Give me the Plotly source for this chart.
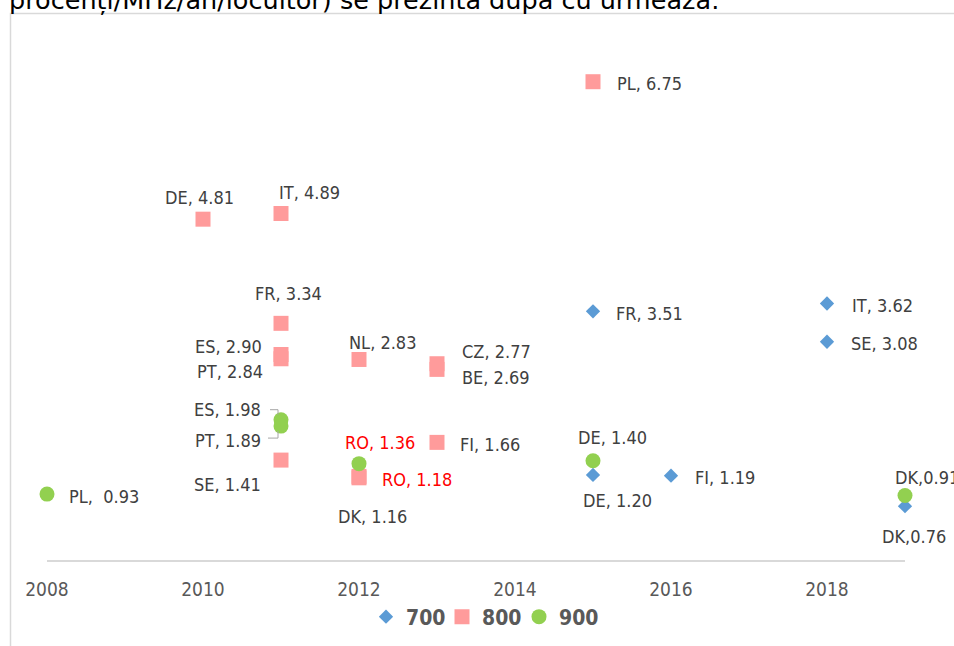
import plotly.graph_objects as go

# ---------------- data ----------------
series_names = ["700", "800", "900"]

countries_700 = ["FR", "IT", "SE", "DE", "FI", "DK"]
years_700 = [2015, 2018, 2018, 2015, 2016, 2019]
values_700 = [3.51, 3.62, 3.08, 1.20, 1.19, 0.76]
seps_700 = [", ", ", ", ", ", ", ", ", ", ","]

countries_800 = ["PL", "DE", "IT", "FR", "ES", "PT", "NL", "CZ", "BE", "FI", "SE", "RO", "DK"]
years_800 = [2015, 2010, 2011, 2011, 2011, 2011, 2012, 2013, 2013, 2013, 2011, 2012, 2012]
values_800 = [6.75, 4.81, 4.89, 3.34, 2.90, 2.84, 2.83, 2.77, 2.69, 1.66, 1.41, 1.18, 1.16]
seps_800 = [", "] * 13

countries_900 = ["PL", "ES", "PT", "RO", "DE", "DK"]
years_900 = [2008, 2011, 2011, 2012, 2015, 2019]
values_900 = [0.93, 1.98, 1.89, 1.36, 1.40, 0.91]
seps_900 = [",  ", ", ", ", ", ", ", ", ", ","]

x_tick_values = [2008, 2010, 2012, 2014, 2016, 2018]
x_tick_labels = ["2008", "2010", "2012", "2014", "2016", "2018"]

header_text = "procenți/MHz/an/locuitor) se prezintă după cu urmează:"

# ---------------- styles ----------------
COL_700 = "#5B9BD5"
COL_800 = "#FF9B9B"
COL_900 = "#92D050"
LABEL_COL = "#404040"
HIGHLIGHT = "#FF0000"
LABEL_FONT = "DejaVu Sans Condensed"

# label placement (anchor, xshift px, yshift px)
place_700 = [("left", 21, -2), ("left", 23, -2), ("left", 22, -2),
             ("center", 24, -26), ("left", 22, -2), ("center", 9, -30)]
place_800 = [("left", 22, -2), ("center", -4, 22), ("center", 28, 21),
             ("center", 7, 30), ("right", -17, 8), ("right", -16, -13),
             ("center", 23, 17), ("left", 23, 12), ("left", 23, -8),
             ("left", 21, -2), ("right", -18, -24), ("left", 21, -3),
             ("center", 13, -39)]
place_900 = [("left", 20, -2), ("right", -18, 10), ("right", -18, -14),
             ("center", 21, 21), ("center", 19, 23), ("left", -12, 18)]

# legend entry positions (left edge px of each separate legend box)
legend_left_px = [366, 442, 519]

# ---------------- figure ----------------
W, H = 954, 646
ML, MR, MT, MB = 47, 49, 64, 86
PW, PH = W - ML - MR, H - MT - MB


def px_to_paper_x(px):
    return (px - ML) / PW


def px_to_paper_y(py):
    return (H - MB - py) / PH


fig = go.Figure()

series = [
    (series_names[0], countries_700, years_700, values_700, seps_700, place_700,
     dict(symbol="diamond", size=11, color=COL_700)),
    (series_names[1], countries_800, years_800, values_800, seps_800, place_800,
     dict(symbol="square", size=15, color=COL_800)),
    (series_names[2], countries_900, years_900, values_900, seps_900, place_900,
     dict(symbol="circle", size=15, color=COL_900)),
]

legend_ids = ["legend", "legend2", "legend3"]

annotations = []
for i, (name, ctry, yrs, vals, seps, place, mk) in enumerate(series):
    fig.add_trace(go.Scatter(
        x=yrs, y=vals, mode="markers", name=name, legend=legend_ids[i],
        marker=dict(symbol=mk["symbol"], size=mk["size"], color=mk["color"],
                    line=dict(width=0)),
        cliponaxis=False, hoverinfo="skip",
    ))
    for c, x, v, s, (anc, dx, dy) in zip(ctry, yrs, vals, seps, place):
        annotations.append(dict(
            x=x, y=v, xref="x", yref="y", text=f"{c}{s}{v:.2f}",
            showarrow=False, xanchor=anc, yanchor="middle",
            xshift=dx, yshift=dy,
            font=dict(family=LABEL_FONT, size=18,
                      color=HIGHLIGHT if c == "RO" else LABEL_COL),
        ))

# header text (partially cut at the top)
annotations.append(dict(
    x=px_to_paper_x(722), y=px_to_paper_y(0), xref="paper", yref="paper",
    text=header_text, showarrow=False, xanchor="right", yanchor="middle",
    font=dict(family="DejaVu Sans", size=25.5, color="#000000"),
))

shapes = [
    # chart frame
    dict(type="rect", xref="paper", yref="paper",
         x0=px_to_paper_x(10.5), x1=px_to_paper_x(1000),
         y0=px_to_paper_y(700), y1=px_to_paper_y(13.5),
         line=dict(color="#D9D9D9", width=1.5), fillcolor="rgba(0,0,0,0)",
         layer="below"),
]
# leader lines for ES / PT (900) labels
for c, x, v in zip(countries_900, years_900, values_900):
    if c == "ES":
        path = "M -11,10 L -3,10 L -3,5"
    elif c == "PT":
        path = "M -13,-12 L -3,-12 L -3,-5"
    else:
        continue
    shapes.append(dict(type="path", xref="x", yref="y",
                       xsizemode="pixel", ysizemode="pixel",
                       xanchor=x, yanchor=v, path=path,
                       line=dict(color="#A6A6A6", width=1)))

legend_common = dict(
    orientation="h", xref="container", yref="container",
    y=1 - 617 / H, xanchor="left", yanchor="middle",
    font=dict(family="DejaVu Sans Condensed", size=21, color="#595959", weight="bold"),
    itemclick=False, itemdoubleclick=False, bgcolor="rgba(0,0,0,0)",
)
legends = {lid: dict(legend_common, x=lx / W) for lid, lx in zip(legend_ids, legend_left_px)}

fig.update_layout(
    width=W, height=H,
    margin=dict(l=ML, r=MR, t=MT, b=MB, pad=0, autoexpand=False),
    paper_bgcolor="white", plot_bgcolor="white",
    showlegend=True,
    annotations=annotations,
    shapes=shapes,
    xaxis=dict(range=[2008, 2019], tickvals=x_tick_values, ticktext=x_tick_labels,
               showgrid=False, zeroline=False, showline=True,
               linecolor="#D9D9D9", linewidth=1.5, ticks="",
               ticklabelstandoff=11,
               tickfont=dict(family="DejaVu Sans Condensed", size=19, color="#595959")),
    yaxis=dict(range=[0, 7], visible=False, showgrid=False, zeroline=False),
    **legends,
)

fig.write_html(
    "out.html",
    config={"displayModeBar": False},
    post_script="document.body.style.margin='0px';document.body.style.overflow='hidden';",
)
